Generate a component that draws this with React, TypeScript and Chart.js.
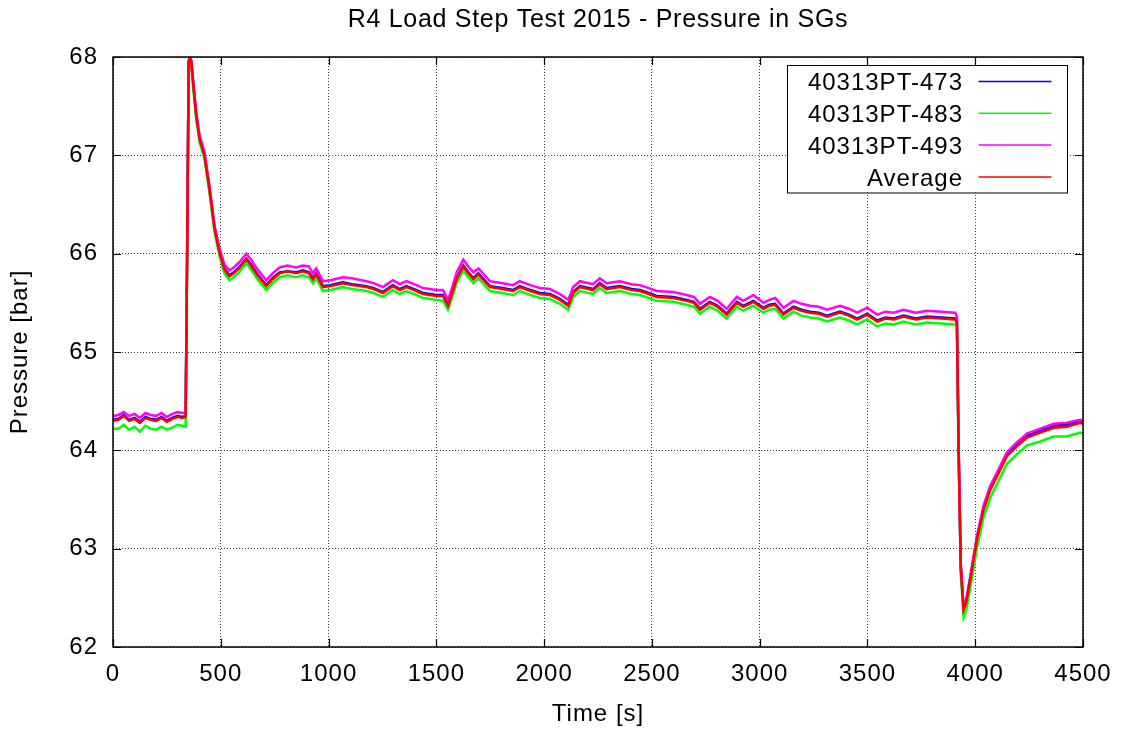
import React, { useEffect, useRef } from "react";
import { Chart, registerables } from "chart.js";

Chart.register(...registerables);

const TITLE = "R4 Load Step Test 2015 - Pressure in SGs";
const X_TITLE = "Time [s]";
const Y_TITLE = "Pressure [bar]";
const SERIES_NAMES = ["40313PT-473", "40313PT-483", "40313PT-493", "Average"];
const SERIES_COLORS = ["#0000ff", "#00ff00", "#ff00ff", "#ff0000"];
const X_TICKS = [0, 500, 1000, 1500, 2000, 2500, 3000, 3500, 4000, 4500];
const Y_TICKS = [62, 63, 64, 65, 66, 67, 68];

const TIME = [
  0, 25, 50, 75, 100, 125, 150, 175, 200, 225,
  250, 275, 300, 320, 337, 344, 351, 356, 363, 371,
  386, 402, 424, 447, 471, 494, 517, 540, 560, 585,
  618, 640, 670, 711, 740, 773, 809, 849, 880, 909,
  927, 943, 974, 1009, 1066, 1109, 1176, 1209, 1252, 1298,
  1330, 1361, 1408, 1438, 1501, 1531, 1554, 1574, 1594, 1625,
  1648, 1672, 1695, 1749, 1807, 1856, 1887, 1937, 1980, 2027,
  2073, 2112, 2135, 2166, 2227, 2258, 2290, 2351, 2406, 2444,
  2486, 2522, 2599, 2661, 2695, 2723, 2769, 2805, 2847, 2894,
  2924, 2971, 3017, 3045, 3072, 3110, 3157, 3194, 3234, 3274,
  3312, 3373, 3414, 3452, 3499, 3545, 3584, 3622, 3668, 3724,
  3777, 3843, 3907, 3915, 3923, 3933, 3946, 3958, 3977, 4008,
  4039, 4070, 4100, 4147, 4193, 4240, 4302, 4364, 4425, 4487, 4500,
];

const PT473 = [
  64.31, 64.32, 64.36, 64.31, 64.33, 64.29, 64.34, 64.32, 64.31, 64.34,
  64.30, 64.33, 64.35, 64.34, 64.35, 66.00, 67.95, 68.00, 67.96, 67.76,
  67.41, 67.17, 67.01, 66.67, 66.26, 66.02, 65.85, 65.78, 65.81, 65.86,
  65.95, 65.89, 65.79, 65.68, 65.75, 65.81, 65.82, 65.81, 65.83, 65.81,
  65.75, 65.80, 65.67, 65.68, 65.71, 65.69, 65.67, 65.65, 65.61, 65.68,
  65.64, 65.67, 65.63, 65.60, 65.58, 65.58, 65.48, 65.61, 65.75, 65.88,
  65.81, 65.75, 65.80, 65.67, 65.65, 65.63, 65.67, 65.63, 65.60, 65.59,
  65.54, 65.48, 65.61, 65.67, 65.64, 65.70, 65.65, 65.67, 65.64, 65.63,
  65.60, 65.57, 65.56, 65.53, 65.51, 65.44, 65.51, 65.47, 65.39, 65.51,
  65.47, 65.52, 65.45, 65.48, 65.49, 65.39, 65.46, 65.43, 65.41, 65.40,
  65.37, 65.41, 65.38, 65.34, 65.39, 65.32, 65.35, 65.34, 65.37, 65.34,
  65.36, 65.35, 65.34, 65.31, 64.02, 62.82, 62.39, 62.46, 62.70, 63.11,
  63.42, 63.62, 63.75, 63.96, 64.06, 64.15, 64.20, 64.25, 64.26, 64.30, 64.29,
];

const PT483 = [
  64.22, 64.22, 64.26, 64.21, 64.24, 64.19, 64.25, 64.22, 64.21, 64.24,
  64.21, 64.23, 64.26, 64.25, 64.24, 65.95, 67.92, 67.98, 67.92, 67.72,
  67.37, 67.13, 66.97, 66.63, 66.22, 65.98, 65.80, 65.73, 65.76, 65.81,
  65.90, 65.84, 65.74, 65.63, 65.70, 65.76, 65.78, 65.76, 65.78, 65.76,
  65.70, 65.75, 65.62, 65.63, 65.66, 65.64, 65.62, 65.60, 65.56, 65.63,
  65.59, 65.62, 65.58, 65.55, 65.53, 65.52, 65.43, 65.56, 65.70, 65.83,
  65.76, 65.70, 65.75, 65.62, 65.60, 65.58, 65.62, 65.58, 65.55, 65.54,
  65.49, 65.43, 65.56, 65.62, 65.59, 65.65, 65.60, 65.62, 65.59, 65.58,
  65.55, 65.52, 65.51, 65.48, 65.46, 65.39, 65.46, 65.42, 65.34, 65.46,
  65.42, 65.47, 65.40, 65.43, 65.44, 65.34, 65.41, 65.37, 65.35, 65.34,
  65.31, 65.35, 65.32, 65.28, 65.33, 65.26, 65.29, 65.28, 65.31, 65.28,
  65.30, 65.29, 65.28, 65.26, 63.95, 62.74, 62.30, 62.37, 62.60, 63.01,
  63.32, 63.52, 63.65, 63.86, 63.96, 64.05, 64.09, 64.14, 64.14, 64.18, 64.17,
];

const PT493 = [
  64.35, 64.36, 64.39, 64.35, 64.37, 64.33, 64.38, 64.36, 64.35, 64.38,
  64.34, 64.37, 64.39, 64.38, 64.38, 66.02, 67.96, 68.00, 67.97, 67.78,
  67.44, 67.20, 67.04, 66.70, 66.29, 66.05, 65.89, 65.83, 65.86, 65.91,
  66.00, 65.94, 65.84, 65.73, 65.80, 65.86, 65.88, 65.86, 65.88, 65.87,
  65.80, 65.85, 65.72, 65.73, 65.76, 65.75, 65.72, 65.70, 65.66, 65.73,
  65.69, 65.72, 65.68, 65.65, 65.63, 65.63, 65.53, 65.66, 65.81, 65.94,
  65.87, 65.81, 65.85, 65.72, 65.70, 65.68, 65.72, 65.68, 65.65, 65.64,
  65.59, 65.53, 65.66, 65.72, 65.69, 65.75, 65.70, 65.72, 65.69, 65.68,
  65.65, 65.62, 65.61, 65.58, 65.56, 65.49, 65.56, 65.52, 65.44, 65.56,
  65.52, 65.58, 65.50, 65.53, 65.55, 65.45, 65.52, 65.49, 65.47, 65.46,
  65.43, 65.47, 65.44, 65.40, 65.45, 65.38, 65.41, 65.40, 65.43, 65.40,
  65.42, 65.41, 65.40, 65.36, 64.05, 62.84, 62.41, 62.48, 62.72, 63.13,
  63.44, 63.64, 63.77, 63.98, 64.08, 64.17, 64.22, 64.27, 64.28, 64.31, 64.30,
];

const AVERAGE = [
  64.30, 64.31, 64.35, 64.30, 64.32, 64.28, 64.33, 64.31, 64.30, 64.33,
  64.29, 64.32, 64.34, 64.33, 64.34, 66.00, 67.95, 68.00, 67.95, 67.75,
  67.40, 67.16, 67.00, 66.66, 66.25, 66.01, 65.84, 65.77, 65.80, 65.85,
  65.94, 65.88, 65.78, 65.67, 65.74, 65.80, 65.82, 65.80, 65.82, 65.80,
  65.74, 65.79, 65.66, 65.67, 65.70, 65.68, 65.66, 65.64, 65.60, 65.67,
  65.63, 65.66, 65.62, 65.59, 65.57, 65.57, 65.47, 65.60, 65.74, 65.87,
  65.80, 65.74, 65.79, 65.66, 65.64, 65.62, 65.66, 65.62, 65.59, 65.58,
  65.53, 65.47, 65.60, 65.66, 65.63, 65.69, 65.64, 65.66, 65.63, 65.62,
  65.59, 65.56, 65.55, 65.52, 65.50, 65.43, 65.50, 65.46, 65.38, 65.50,
  65.46, 65.51, 65.44, 65.47, 65.48, 65.38, 65.45, 65.42, 65.40, 65.39,
  65.36, 65.40, 65.37, 65.33, 65.38, 65.31, 65.34, 65.33, 65.36, 65.33,
  65.35, 65.34, 65.33, 65.30, 64.00, 62.80, 62.38, 62.45, 62.68, 63.09,
  63.40, 63.60, 63.73, 63.94, 64.04, 64.13, 64.18, 64.23, 64.24, 64.28, 64.27,
];

const SERIES_VALUES = [PT473, PT483, PT493, AVERAGE];

const FONT = '"Liberation Sans", Arial, Helvetica, sans-serif';

const framePlugin = {
  id: "gnuFrame",
  beforeDraw(chart: any) {
    const ctx = chart.ctx;
    ctx.save();
    ctx.fillStyle = "#ffffff";
    ctx.fillRect(0, 0, chart.width, chart.height);
    ctx.restore();
    (ctx as any).letterSpacing = "1px";
  },
  afterDatasetsDraw(chart: any) {
    const ctx = chart.ctx;
    const a = chart.chartArea;
    const xs = chart.scales.x;
    const ys = chart.scales.y;
    ctx.save();
    // border
    ctx.strokeStyle = "#000";
    ctx.lineWidth = 1.5;
    ctx.setLineDash([]);
    ctx.strokeRect(a.left, a.top, a.right - a.left, a.bottom - a.top);
    // inward ticks (mirrored)
    ctx.lineWidth = 1.2;
    const tl = 8;
    ctx.beginPath();
    X_TICKS.forEach((v) => {
      const px = Math.round(xs.getPixelForValue(v)) + 0.5;
      ctx.moveTo(px, a.bottom);
      ctx.lineTo(px, a.bottom - tl);
      ctx.moveTo(px, a.top);
      ctx.lineTo(px, a.top + tl);
    });
    Y_TICKS.forEach((v) => {
      const py = Math.round(ys.getPixelForValue(v)) + 0.5;
      ctx.moveTo(a.left, py);
      ctx.lineTo(a.left + tl, py);
      ctx.moveTo(a.right, py);
      ctx.lineTo(a.right - tl, py);
    });
    ctx.stroke();

    // legend box
    const bw = 280;
    const bh = 127.5;
    const bx = a.right - 16 - bw;
    const by = a.top + 8;
    ctx.fillStyle = "#fff";
    ctx.fillRect(bx, by, bw, bh);
    ctx.strokeStyle = "#000";
    ctx.lineWidth = 1;
    ctx.strokeRect(Math.round(bx) + 0.5, Math.round(by) + 0.5, bw, bh);
    ctx.font = `24px ${FONT}`;
    (ctx as any).letterSpacing = "1px";
    ctx.textAlign = "right";
    ctx.textBaseline = "alphabetic";
    SERIES_NAMES.forEach((name, i) => {
      const cy = by + 16.5 + i * 31.8;
      ctx.fillStyle = "#000";
      ctx.fillText(name, bx + 176, cy + 8.6);
      ctx.strokeStyle = SERIES_COLORS[i];
      ctx.lineWidth = 1.5;
      ctx.beginPath();
      ctx.moveTo(bx + 191.5, cy);
      ctx.lineTo(bx + 264.5, cy);
      ctx.stroke();
    });

    // titles
    ctx.fillStyle = "#000";
    ctx.textAlign = "center";
    ctx.textBaseline = "alphabetic";
    ctx.font = `25px ${FONT}`;
    (ctx as any).letterSpacing = "0.7px";
    ctx.fillText(TITLE, (a.left + a.right) / 2, 27.3);
    ctx.font = `24px ${FONT}`;
    (ctx as any).letterSpacing = "1px";
    ctx.fillText(X_TITLE, (a.left + a.right) / 2, 720.5);
    ctx.save();
    ctx.translate(26.7, (a.top + a.bottom) / 2);
    ctx.rotate(-Math.PI / 2);
    ctx.fillText(Y_TITLE, 0, 0);
    ctx.restore();
    ctx.restore();
  },
};

export default function App() {
  const canvasRef = useRef<HTMLCanvasElement | null>(null);

  useEffect(() => {
    const canvas = canvasRef.current;
    if (!canvas) return;
    const datasets = SERIES_NAMES.map((name, i) => ({
      label: name,
      data: TIME.map((t, k) => ({ x: t, y: SERIES_VALUES[i][k] })),
      borderColor: SERIES_COLORS[i],
      backgroundColor: SERIES_COLORS[i],
      borderWidth: 2.5,
      pointRadius: 0,
      tension: 0,
      fill: false,
      order: 3 - i,
    }));
    const tickFont = { family: FONT, size: 24 };
    const gridColor = "rgba(0,0,0,0.75)";
    const chart = new Chart(canvas, {
      type: "line",
      data: { datasets },
      options: {
        animation: false,
        responsive: false,
        devicePixelRatio: 1,
        events: [],
        layout: { padding: { top: 57, right: 40, left: 0, bottom: 0 } },
        plugins: {
          legend: { display: false },
          title: { display: false },
          tooltip: { enabled: false },
        },
        scales: {
          x: {
            type: "linear",
            min: 0,
            max: 4500,
            afterBuildTicks: (s: any) => {
              s.ticks = X_TICKS.map((v) => ({ value: v }));
            },
            afterFit: (s: any) => {
              s.height = 86;
            },
            ticks: {
              font: tickFont,
              color: "#000",
              padding: 13,
              maxRotation: 0,
              autoSkip: false,
              callback: (v: any) => String(v),
            },
            grid: { color: gridColor, lineWidth: 1, drawTicks: false },
            border: { display: false, dash: [1, 2] },
          },
          y: {
            type: "linear",
            min: 62,
            max: 68,
            afterBuildTicks: (s: any) => {
              s.ticks = Y_TICKS.map((v) => ({ value: v }));
            },
            afterFit: (s: any) => {
              s.width = 113;
            },
            ticks: {
              font: tickFont,
              color: "#000",
              padding: 15,
              autoSkip: false,
              callback: (v: any) => String(v),
            },
            grid: { color: gridColor, lineWidth: 1, drawTicks: false },
            border: { display: false, dash: [1, 2] },
          },
        },
      },
      plugins: [framePlugin],
    } as any);
    return () => chart.destroy();
  }, []);

  return (
    <div style={{ position: "fixed", left: 0, top: 0, width: 1123, height: 733, background: "#fff" }}>
      <canvas ref={canvasRef} width={1123} height={733} style={{ display: "block", width: 1123, height: 733 }} />
    </div>
  );
}
